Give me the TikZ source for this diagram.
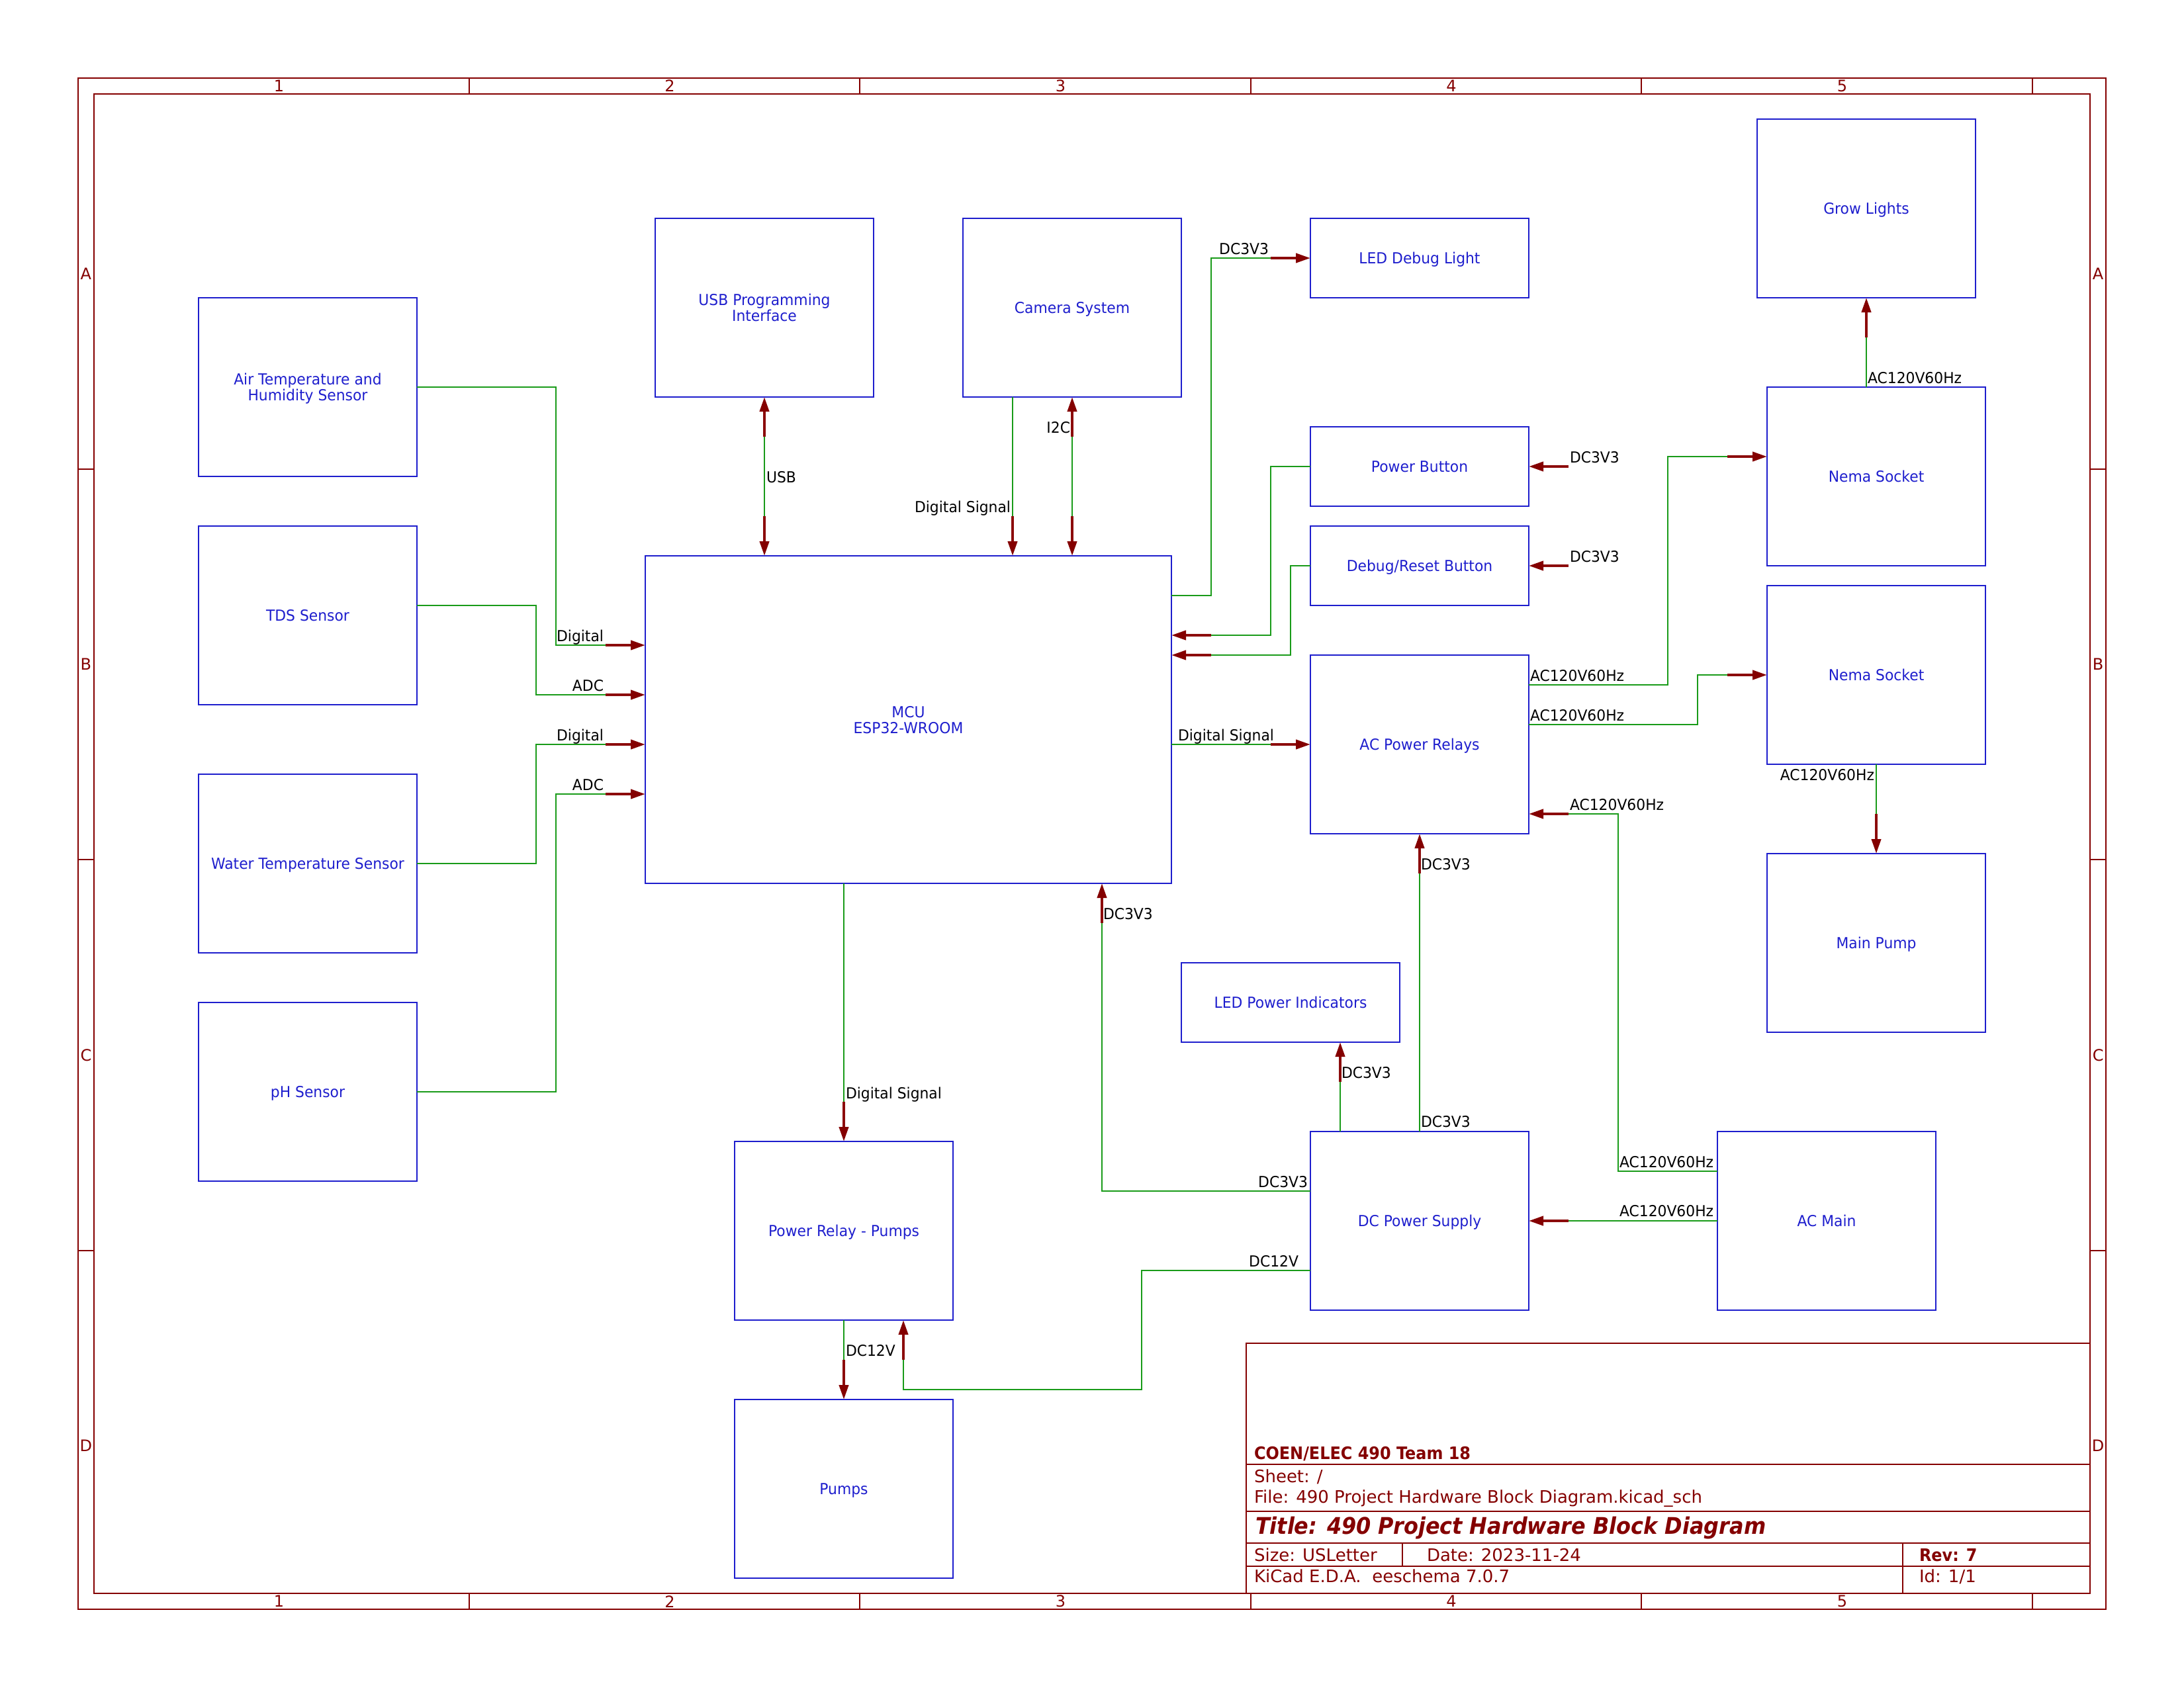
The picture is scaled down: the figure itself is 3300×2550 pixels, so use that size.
\documentclass[tikz,border=0pt]{standalone}
\usepackage{fontspec}
\setmainfont{DejaVu Sans}
\newfontfamily\kfont[FakeStretch=0.95]{DejaVu Sans}
\newfontfamily\ktbfont{DejaVu Sans}
\newfontfamily\ktbbold[FakeStretch=0.92]{DejaVu Sans}
\usetikzlibrary{arrows.meta,calc}
\definecolor{kblue}{RGB}{30,30,205}
\definecolor{kgreen}{RGB}{25,155,25}
\definecolor{kred}{RGB}{132,0,0}
\definecolor{kstub}{RGB}{140,12,12}
\newcommand\klab{\kfont\fontsize{5.52pt}{5.76pt}\selectfont}
\newcommand\ktb{\ktbfont\fontsize{6.24pt}{7.2pt}\selectfont}
\newcommand\ktbb{\ktbbold\bfseries\fontsize{6.24pt}{7.2pt}\selectfont}
\newcommand\kttitle{\ktbbold\bfseries\itshape\fontsize{8.33pt}{9.6pt}\selectfont}
\newcommand\kreffont{\ktbfont\fontsize{5.76pt}{6.5pt}\selectfont}
\newcommand\kpinin[2]{\draw[kpinstyle] ($(#1)+(#2)$) -- (#1);}
\tikzset{
  box/.style={draw=kblue, line width=0.48pt, inner sep=0pt, outer sep=0pt, text=kblue, font=\klab, align=center, text depth=0pt, minimum width=79.2pt, minimum height=64.8pt},
  flat/.style={minimum height=28.8pt},
  wire/.style={draw=kgreen, line width=0.43pt},
  kpinstyle/.style={draw=kstub, line width=0.96pt, -{Triangle[length=5.28pt,width=3.36pt,color=kred]}},
  lbl/.style={font=\klab, text=black, inner sep=0pt, outer sep=0pt},
  frame/.style={draw=kred, line width=0.48pt},
  tbtext/.style={text=kred, inner sep=0pt, outer sep=0pt, anchor=base west},
  refl/.style={text=kred, font=\kreffont, inner sep=0pt}
}
\begin{document}
\begin{tikzpicture}[x=0.24pt, y=-0.24pt]
\useasboundingbox (0,0) rectangle (3300,2550);
% ---------- frame ----------
\draw[frame] (118.1,118.1) rectangle (3181.9,2431.9);
\draw[frame] (141.7,141.7) rectangle (3158.3,2408.3);
\foreach \x in {708.7,1299.2,1889.8,2480.3,3070.9} {
  \draw[frame] (\x,118.1) -- (\x,141.7);
  \draw[frame] (\x,2408.3) -- (\x,2431.9);
}
\foreach \y in {708.7,1299.2,1889.8} {
  \draw[frame] (118.1,\y) -- (141.7,\y);
  \draw[frame] (3158.3,\y) -- (3181.9,\y);
}
\foreach \n/\x in {1/421.4,2/1011.9,3/1602.5,4/2193.0,5/2783.6} {
  \node[refl] (ct\n) at (\x,129.9) {\n};
  \node[refl] (cb\n) at (\x,2420.1) {\n};
}
\foreach \n/\y in {A/413.4,B/1003.9,C/1594.5,D/2185.0} {
  \node[refl] (rl\n) at (129.9,\y) {\n};
  \node[refl] (rr\n) at (3170.1,\y) {\n};
}
% ---------- title block ----------
\draw[frame] (1882.7,2030.3) rectangle (3158.3,2408.3);
\draw[frame] (1882.7,2213.4) -- (3158.3,2213.4);
\draw[frame] (1882.7,2284.3) -- (3158.3,2284.3);
\draw[frame] (1882.7,2331.5) -- (3158.3,2331.5);
\draw[frame] (1882.7,2367.0) -- (3158.3,2367.0);
\draw[frame] (2874.8,2331.5) -- (2874.8,2408.3);
\draw[frame] (2119.0,2331.5) -- (2119.0,2367.0);
\node[tbtext, font=\ktbb] (tcomp) at (1895,2205) {COEN/ELEC 490 Team 18};
\node[tbtext, font=\ktb] (tsheet) at (1895,2240) {Sheet: /};
\node[tbtext, font=\ktb] (tfile) at (1895,2271) {File: 490 Project Hardware Block Diagram.kicad\_sch};
\node[tbtext, font=\kttitle] (ttitle) at (1897,2318) {Title: 490 Project Hardware Block Diagram};
\node[tbtext, font=\ktb] (tsize) at (1895,2359) {Size: USLetter};
\node[tbtext, font=\ktb] (tdate) at (2156,2359) {Date: 2023-11-24};
\node[tbtext, font=\ktbb] (trev) at (2900,2359) {Rev: 7};
\node[tbtext, font=\ktb] (tkicad) at (1895,2391) {KiCad E.D.A.\ \ eeschema 7.0.7};
\node[tbtext, font=\ktb] (tid) at (2900,2391) {Id: 1/1};
% ---------- sheets ----------
\node[box] (air) at (465,585) {Air Temperature and\\Humidity Sensor};
\node[box] (tds) at (465,930) {TDS Sensor};
\node[box] (water) at (465,1305) {Water Temperature Sensor};
\node[box] (ph) at (465,1650) {pH Sensor};
\node[box] (usb) at (1155,465) {USB Programming\\Interface};
\node[box] (cam) at (1620,465) {Camera System};
\node[box,flat] (leddbg) at (2145,390) {LED Debug Light};
\node[box,flat] (pwrbtn) at (2145,705) {Power Button};
\node[box,flat] (dbgbtn) at (2145,855) {Debug/Reset Button};
\node[box] (relays) at (2145,1125) {AC Power Relays};
\node[box] (grow) at (2820,315) {Grow Lights};
\node[box] (nema1) at (2835,720) {Nema Socket};
\node[box] (nema2) at (2835,1020) {Nema Socket};
\node[box] (mpump) at (2835,1425) {Main Pump};
\node[box, minimum width=190.8pt, minimum height=118.8pt] (mcu) at (1372.5,1087.5) {MCU\\ESP32-WROOM};
\node[box,flat] (ledpwr) at (1950,1515) {LED Power Indicators};
\node[box] (dcps) at (2145,1845) {DC Power Supply};
\node[box] (acmain) at (2760,1845) {AC Main};
\node[box] (prelay) at (1275,1860) {Power Relay - Pumps};
\node[box] (pumps) at (1275,2250) {Pumps};
% ---------- pin points ----------
\coordinate (mL1) at ($(mcu.north west)+(0,135)$);
\coordinate (mL2) at ($(mcu.north west)+(0,210)$);
\coordinate (mL3) at ($(mcu.north west)+(0,285)$);
\coordinate (mL4) at ($(mcu.north west)+(0,360)$);
\coordinate (mT1) at ($(mcu.north west)+(180,0)$);
\coordinate (mT2) at ($(mcu.north west)+(555,0)$);
\coordinate (mT3) at ($(mcu.north west)+(645,0)$);
\coordinate (mR1) at ($(mcu.north east)+(0,60)$);
\coordinate (mR2) at ($(mcu.north east)+(0,120)$);
\coordinate (mR3) at ($(mcu.north east)+(0,150)$);
\coordinate (mR4) at ($(mcu.north east)+(0,285)$);
\coordinate (mB1) at ($(mcu.south west)+(300,0)$);
\coordinate (mB2) at ($(mcu.south west)+(690,0)$);
\coordinate (rR1) at ($(relays.north east)+(0,45)$);
\coordinate (rR2) at ($(relays.north east)+(0,105)$);
\coordinate (rR3) at ($(relays.north east)+(0,240)$);
\coordinate (n1L) at ($(nema1.north west)+(0,105)$);
\coordinate (n1T) at ($(nema1.north west)+(150,0)$);
\coordinate (aL1) at ($(acmain.north west)+(0,60)$);
\coordinate (dT1) at ($(dcps.north west)+(45,0)$);
\coordinate (dL1) at ($(dcps.north west)+(0,90)$);
\coordinate (dL2) at ($(dcps.north west)+(0,210)$);
\coordinate (lB) at ($(ledpwr.south west)+(240,0)$);
\coordinate (pB) at ($(prelay.south west)+(255,0)$);
% ---------- wires ----------
\draw[wire] (air.east) -| ($(mL1)+(-135,0)$) -- ($(mL1)+(-60,0)$);
\draw[wire] ($(tds.north east)+(0,120)$) -| ($(mL2)+(-165,0)$) -- ($(mL2)+(-60,0)$);
\draw[wire] (water.east) -| ($(mL3)+(-165,0)$) -- ($(mL3)+(-60,0)$);
\draw[wire] (ph.east) -| ($(mL4)+(-135,0)$) -- ($(mL4)+(-60,0)$);
\draw[wire] ($(usb.south)+(0,60)$) -- ($(mT1)+(0,-60)$);
\draw[wire] ($(cam.south west)+(75,0)$) -- ($(mT2)+(0,-60)$);
\draw[wire] ($(cam.south)+(0,60)$) -- ($(mT3)+(0,-60)$);
\draw[wire] (mR1) -| ($(leddbg.west)+(-150,0)$) -- ($(leddbg.west)+(-60,0)$);
\draw[wire] (pwrbtn.west) -| ($(mR2)+(150,0)$) -- ($(mR2)+(60,0)$);
\draw[wire] (dbgbtn.west) -| ($(mR3)+(180,0)$) -- ($(mR3)+(60,0)$);
\draw[wire] (mR4) -- ($(relays.west)+(-60,0)$);
\draw[wire] (rR1) -| ($(n1L)+(-150,0)$) -- ($(n1L)+(-60,0)$);
\draw[wire] (rR2) -| ($(nema2.west)+(-105,0)$) -- ($(nema2.west)+(-60,0)$);
\draw[wire] (n1T) -- ($(grow.south)+(0,60)$);
\draw[wire] (nema2.south) -- ($(mpump.north)+(0,-60)$);
\draw[wire] (aL1) -| ($(rR3)+(135,0)$) -- ($(rR3)+(60,0)$);
\draw[wire] (acmain.west) -- ($(dcps.east)+(60,0)$);
\draw[wire] (dT1) -- ($(lB)+(0,60)$);
\draw[wire] (dcps.north) -- ($(relays.south)+(0,60)$);
\draw[wire] (dL1) -| ($(mB2)+(0,60)$);
\draw[wire] (dL2) -| (1725,2100) -| ($(pB)+(0,60)$);
\draw[wire] (mB1) -- ($(prelay.north)+(0,-60)$);
\draw[wire] (prelay.south) -- ($(pumps.north)+(0,-60)$);
% ---------- sheet pins ----------
\kpinin{mL1}{-60,0}
\kpinin{mL2}{-60,0}
\kpinin{mL3}{-60,0}
\kpinin{mL4}{-60,0}
\kpinin{usb.south}{0,60}
\kpinin{mT1}{0,-60}
\kpinin{mT2}{0,-60}
\kpinin{cam.south}{0,60}
\kpinin{mT3}{0,-60}
\kpinin{leddbg.west}{-60,0}
\kpinin{pwrbtn.east}{60,0}
\kpinin{mR2}{60,0}
\kpinin{dbgbtn.east}{60,0}
\kpinin{mR3}{60,0}
\kpinin{relays.west}{-60,0}
\kpinin{n1L}{-60,0}
\kpinin{nema2.west}{-60,0}
\kpinin{grow.south}{0,60}
\kpinin{mpump.north}{0,-60}
\kpinin{rR3}{60,0}
\kpinin{dcps.east}{60,0}
\kpinin{lB}{0,60}
\kpinin{relays.south}{0,60}
\kpinin{mB2}{0,60}
\kpinin{pB}{0,60}
\kpinin{prelay.north}{0,-60}
\kpinin{pumps.north}{0,-60}
% ---------- labels ----------
\node[lbl,anchor=base east] (t1) at (912,969) {Digital};
\node[lbl,anchor=base east] (t2) at (912,1044) {ADC};
\node[lbl,anchor=base east] (t3) at (912,1119) {Digital};
\node[lbl,anchor=base east] (t4) at (912,1194) {ADC};
\node[lbl,anchor=base west] (t5) at (1158,729) {USB};
\node[lbl,anchor=base east] (t6) at (1527,774) {Digital Signal};
\node[lbl,anchor=base east] (t7) at (1617,654) {I2C};
\node[lbl,anchor=base east] (t8) at (1917,384) {DC3V3};
\node[lbl,anchor=base west] (t9) at (2372,699) {DC3V3};
\node[lbl,anchor=base west] (t10) at (2372,849) {DC3V3};
\node[lbl,anchor=base west] (t11) at (1780,1119) {Digital Signal};
\node[lbl,anchor=base west] (t12) at (2312,1029) {AC120V60Hz};
\node[lbl,anchor=base west] (t13) at (2312,1089) {AC120V60Hz};
\node[lbl,anchor=base west] (t14) at (2372,1224) {AC120V60Hz};
\node[lbl,anchor=base east] (t15) at (2832,1179) {AC120V60Hz};
\node[lbl,anchor=base west] (t16) at (2822,579) {AC120V60Hz};
\node[lbl,anchor=base west] (t17) at (2447,1764) {AC120V60Hz};
\node[lbl,anchor=base west] (t18) at (2447,1838) {AC120V60Hz};
\node[lbl,anchor=base west] (t19) at (2027,1629) {DC3V3};
\node[lbl,anchor=base west] (t20) at (2147,1703) {DC3V3};
\node[lbl,anchor=base west] (t21) at (2147,1314) {DC3V3};
\node[lbl,anchor=base west] (t22) at (1667,1389) {DC3V3};
\node[lbl,anchor=base east] (t23) at (1976,1794) {DC3V3};
\node[lbl,anchor=base east] (t24) at (1962,1914) {DC12V};
\node[lbl,anchor=base west] (t25) at (1278,1660) {Digital Signal};
\node[lbl,anchor=base west] (t26) at (1278,2049) {DC12V};
\end{tikzpicture}
\end{document}
